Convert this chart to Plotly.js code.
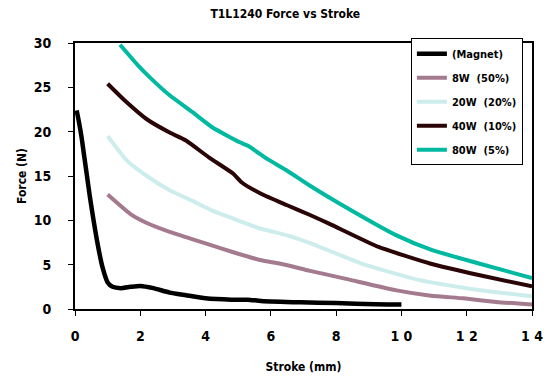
<!DOCTYPE html>
<html><head><meta charset="utf-8">
<script src="https://cdn.plot.ly/plotly-3.0.1.min.js"></script>
<style>html,body{margin:0;padding:0;background:#fff}#chart{width:554px;height:381px}</style>
</head><body><div id="chart"></div>
<script>
var magnetX = [0.05,0.1,0.2,0.45,0.7,0.85,1.0,1.15,1.4,1.7,2.0,2.4,2.9,3.4,4.0,4.8,5.3,5.7,6.9,8.0,9.2,10.0];
var magnetY = [22.4,21.5,19.4,12.8,7.2,4.6,3.0,2.5,2.35,2.5,2.6,2.35,1.85,1.55,1.2,1.05,1.05,0.9,0.75,0.68,0.53,0.5];
var w8X = [1.0,1.7,2.2,2.9,3.4,4.0,4.85,5.7,6.3,7.2,8.3,9.85,10.9,11.9,12.9,14.0];
var w8Y = [12.9,10.7,9.7,8.7,8.1,7.4,6.4,5.5,5.1,4.3,3.4,2.1,1.5,1.2,0.8,0.5];
var w20X = [1.0,1.6,2.2,2.9,3.6,4.2,4.85,5.7,6.5,7.3,8.8,10.4,11.9,12.9,14.0];
var w20Y = [19.5,16.7,15.0,13.4,12.2,11.1,10.2,9.05,8.3,7.3,5.1,3.4,2.4,1.9,1.45];
var w40X = [1.0,1.5,2.2,2.9,3.4,4.1,4.85,5.1,5.7,6.5,7.2,7.8,9.3,10.9,12.4,14.0];
var w40Y = [25.4,23.6,21.4,19.9,19.0,17.1,15.25,14.3,13.0,11.7,10.6,9.6,7.0,5.1,3.8,2.55];
var w80X = [1.38,1.9,2.3,2.9,3.6,4.2,5.05,5.3,5.9,6.5,7.2,8.1,9.85,10.9,12.4,14.0];
var w80Y = [29.8,27.6,26.1,24.1,22.2,20.5,18.8,18.4,16.9,15.6,13.9,11.9,8.3,6.7,5.1,3.5];
var seriesNames = ["(Magnet)","8W  (50%)","20W  (20%)","40W  (10%)","80W  (5%)"];
var seriesColors = ["#000000","#A47A8E","#CDEDEC","#2A0506","#00B9A0"];
var xTicks = [0,2,4,6,8,10,12,14];
var yTicks = [0,5,10,15,20,25,30];

var FONT = "DejaVu Sans Condensed, Liberation Sans Narrow, sans-serif";
var xs = [magnetX,w8X,w20X,w40X,w80X];
var ys = [magnetY,w8Y,w20Y,w40Y,w80Y];
var traces = xs.map(function(x,i){
  return {x:x, y:ys[i], name:"<b>"+seriesNames[i]+"</b>", type:"scatter", mode:"lines",
    legendgroup:"g"+i,
    line:{color:seriesColors[i], width: i===0?4.5:4, shape:"spline", smoothing:0.5}};
});
var layout = {
  width:554, height:381,
  margin:{l:75, r:22, t:43, b:72},
  paper_bgcolor:"#fff", plot_bgcolor:"#fff",
  font:{family:FONT, color:"#000", size:12},
  title:{text:"<b>T1L1240 Force vs Stroke</b>", x:0.515, xanchor:"center", y:0.963, yanchor:"middle", font:{family:FONT, size:12, color:"#000"}},
  xaxis:{range:[0,14], tickvals:xTicks, ticktext:xTicks.map(function(v){return "<b>"+String(v).split("").join(" ")+"</b>";}),
    showgrid:false, zeroline:false, showline:true, linecolor:"#000", linewidth:2, mirror:true,
    ticks:"outside", ticklen:5, tickwidth:1, tickcolor:"#000", ticklabelstandoff:8,
    tickfont:{family:FONT, size:14}, title:{text:"<b>Stroke (mm)</b>", font:{family:FONT, size:12}, standoff:20}},
  yaxis:{range:[0,30], tickvals:yTicks, ticktext:yTicks.map(function(v){return "<b>"+v+"</b>";}),
    showgrid:false, zeroline:false, showline:true, linecolor:"#000", linewidth:2, mirror:true,
    ticks:"outside", ticklen:5, tickwidth:1, tickcolor:"#000", ticklabelstandoff:14,
    tickfont:{family:FONT, size:14}, title:{text:"<b>Force (N)</b>", font:{family:FONT, size:12}, standoff:4}},
  legend:{x:0.735, xanchor:"left", y:1.018, yanchor:"top", bgcolor:"#fff", bordercolor:"#000", borderwidth:1,
    font:{family:FONT, size:11}, tracegroupgap:5, itemwidth:30},
  showlegend:true
};
Plotly.newPlot("chart", traces, layout, {displayModeBar:false, staticPlot:true});
</script>
</body></html>
